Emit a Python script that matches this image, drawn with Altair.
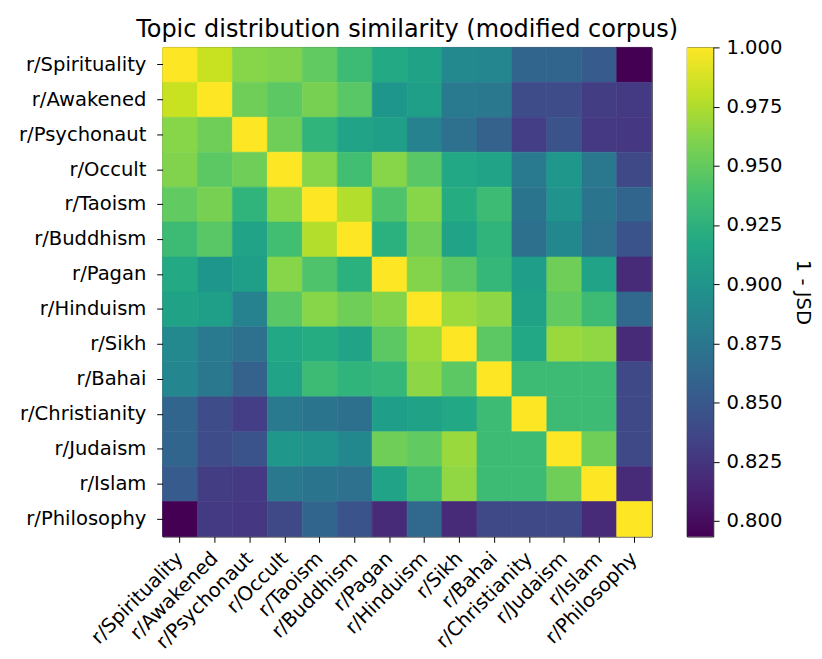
import altair as alt
import pandas as pd

names = ["r/Spirituality", "r/Awakened", "r/Psychonaut", "r/Occult", "r/Taoism",
         "r/Buddhism", "r/Pagan", "r/Hinduism", "r/Sikh", "r/Bahai",
         "r/Christianity", "r/Judaism", "r/Islam", "r/Philosophy"]

spirituality = [1.000, 0.983, 0.963, 0.961, 0.950, 0.935, 0.918, 0.912, 0.891, 0.888, 0.860, 0.860, 0.852, 0.7935]
awakened     = [0.983, 1.000, 0.955, 0.948, 0.958, 0.947, 0.902, 0.910, 0.878, 0.876, 0.840, 0.840, 0.830, 0.828]
psychonaut   = [0.963, 0.955, 1.000, 0.955, 0.928, 0.913, 0.910, 0.884, 0.870, 0.856, 0.831, 0.846, 0.827, 0.826]
occult       = [0.961, 0.948, 0.955, 1.000, 0.963, 0.937, 0.963, 0.947, 0.917, 0.913, 0.878, 0.903, 0.876, 0.838]
taoism       = [0.950, 0.958, 0.928, 0.963, 1.000, 0.977, 0.943, 0.963, 0.921, 0.935, 0.873, 0.899, 0.873, 0.860]
buddhism     = [0.935, 0.947, 0.913, 0.937, 0.977, 1.000, 0.925, 0.955, 0.913, 0.928, 0.869, 0.890, 0.870, 0.846]
pagan        = [0.918, 0.902, 0.910, 0.963, 0.943, 0.925, 1.000, 0.962, 0.948, 0.931, 0.909, 0.955, 0.913, 0.818]
hinduism     = [0.912, 0.910, 0.884, 0.947, 0.963, 0.955, 0.962, 1.000, 0.970, 0.965, 0.912, 0.950, 0.935, 0.862]
sikh         = [0.891, 0.878, 0.870, 0.917, 0.921, 0.913, 0.948, 0.970, 1.000, 0.948, 0.917, 0.969, 0.966, 0.818]
bahai        = [0.888, 0.876, 0.856, 0.913, 0.935, 0.928, 0.931, 0.965, 0.948, 1.000, 0.935, 0.935, 0.935, 0.838]
christianity = [0.860, 0.840, 0.831, 0.878, 0.873, 0.869, 0.909, 0.912, 0.917, 0.935, 1.000, 0.935, 0.935, 0.838]
judaism      = [0.860, 0.840, 0.846, 0.903, 0.899, 0.890, 0.955, 0.950, 0.969, 0.935, 0.935, 1.000, 0.955, 0.838]
islam        = [0.852, 0.830, 0.827, 0.876, 0.873, 0.870, 0.913, 0.935, 0.966, 0.935, 0.935, 0.955, 1.000, 0.818]
philosophy   = [0.7935, 0.828, 0.826, 0.838, 0.860, 0.846, 0.818, 0.862, 0.818, 0.838, 0.838, 0.838, 0.818, 1.000]

matrix = [spirituality, awakened, psychonaut, occult, taoism, buddhism, pagan,
          hinduism, sikh, bahai, christianity, judaism, islam, philosophy]

cbar_min = 0.7935
cbar_max = 1.0
cbar_ticks = [0.800, 0.825, 0.850, 0.875, 0.900, 0.925, 0.950, 0.975, 1.000]
viridis_stops = ["#440154", "#482475", "#414487", "#355f8d", "#2a788e", "#21918c",
                 "#22a884", "#44bf70", "#7ad151", "#bddf26", "#fde725"]

records = []
for i, rname in enumerate(names):
    for j, cname in enumerate(names):
        records.append({"row": rname, "col": cname, "value": matrix[i][j]})
df = pd.DataFrame(records)

FONT = "DejaVu Sans"
TICK_FS = 20

heat = alt.Chart(
    df,
    title=alt.TitleParams("Topic distribution similarity (modified corpus)",
                          fontSize=24.5, fontWeight="normal", font=FONT, color="black",
                          frame="group", anchor="middle", offset=5),
).mark_rect(strokeWidth=0.6).encode(
    x=alt.X("col:N", sort=names, scale=alt.Scale(paddingInner=0, paddingOuter=0),
            axis=alt.Axis(title=None, labelAngle=-45, labelAlign="right",
                          labelBaseline="middle", bandPosition=0.5, labelPadding=13)),
    y=alt.Y("row:N", sort=names, scale=alt.Scale(paddingInner=0, paddingOuter=0),
            axis=alt.Axis(title=None, bandPosition=0.5, labelPadding=11)),
    color=alt.Color("value:Q", scale=alt.Scale(scheme="viridis", domain=[cbar_min, cbar_max]), legend=None),
    stroke=alt.Stroke("value:Q", scale=alt.Scale(scheme="viridis", domain=[cbar_min, cbar_max]), legend=None),
).properties(width=500, height=500)

grad = alt.LinearGradient(
    gradient="linear",
    stops=[alt.GradientStop(color=c, offset=k / (len(viridis_stops) - 1)) for k, c in enumerate(viridis_stops)],
    x1=0, x2=0, y1=1, y2=0,
)

cbar_df = pd.DataFrame({"lo": [cbar_min], "hi": [cbar_max]})
cbar = alt.Chart(cbar_df).mark_rect(fill=grad).encode(
    y=alt.Y("lo:Q", scale=alt.Scale(domain=[cbar_min, cbar_max], nice=False, zero=False),
            axis=alt.Axis(orient="right", values=cbar_ticks, format=".3f", title="1 - JSD",
                          titleAngle=90, titleFontSize=TICK_FS, titleFont=FONT,
                          titleFontWeight="normal", titleColor="black", titlePadding=11,
                          labelPadding=7)),
    y2="hi:Q",
).properties(width=27, height=500)

chart = alt.hconcat(heat, cbar, spacing=36, bounds="flush").properties(
    padding={"left": 10, "top": 1, "right": 1, "bottom": 0}
).configure_view(
    stroke="black", strokeWidth=1
).configure_axis(
    domain=False, grid=False, ticks=True, tickColor="black", tickSize=6, tickWidth=1,
    labelFont=FONT, labelFontSize=TICK_FS, labelColor="black",
)

chart.save("out.html", embed_options={"renderer": "svg", "actions": False})
